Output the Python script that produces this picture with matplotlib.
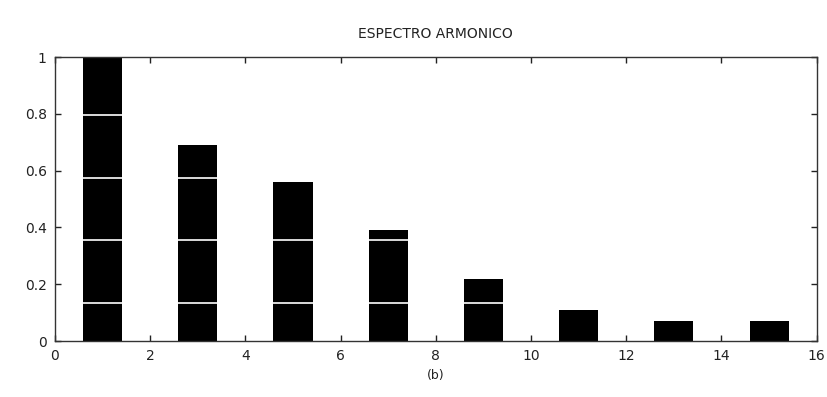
import numpy as np
import matplotlib
matplotlib.use("Agg")
import matplotlib.pyplot as plt

# harmonic spectrum (odd harmonics only)
harmonics = [1, 3, 5, 7, 9, 11, 13, 15]
amplitudes = [1.0, 0.69, 0.56, 0.39, 0.22, 0.11, 0.07, 0.07]

xticks = [0, 2, 4, 6, 8, 10, 12, 14, 16]
yticks = [0, 0.2, 0.4, 0.6, 0.8, 1]
ytick_labels = ["0", "0.2", "0.4", "0.6", "0.8", "1"]
scan_lines = [0.134, 0.356, 0.574, 0.796]  # white streaks across the bars

bar_w = 0.82

fig = plt.figure(figsize=(8.27, 3.97), dpi=100)
ax = fig.add_axes([0.0665, 0.141, 0.921, 0.715])

ax.bar(harmonics, amplitudes, width=bar_w, color="black", zorder=2)
# white streaks only inside the bars they cross
for h, a in zip(harmonics, amplitudes):
    for y in scan_lines:
        if y < a - 0.01:
            ax.hlines(y, h - bar_w / 2, h + bar_w / 2, color="white", lw=1.2, zorder=3)

ax.set_xlim(0, 16)
ax.set_ylim(0, 1)
ax.set_xticks(xticks)
ax.set_yticks(yticks)
ax.set_yticklabels(ytick_labels)
ax.tick_params(direction="in", top=True, right=True, length=4, width=1,
               labelsize=10, colors="#222222", pad=6)
for s in ax.spines.values():
    s.set_linewidth(1.0)
    s.set_color("#333333")

ax.set_title("ESPECTRO ARMONICO", fontsize=10, pad=14, color="#222222")
ax.set_xlabel("(b)", fontsize=9, color="#222222", labelpad=4)

fig.savefig("out.png", dpi=100)
